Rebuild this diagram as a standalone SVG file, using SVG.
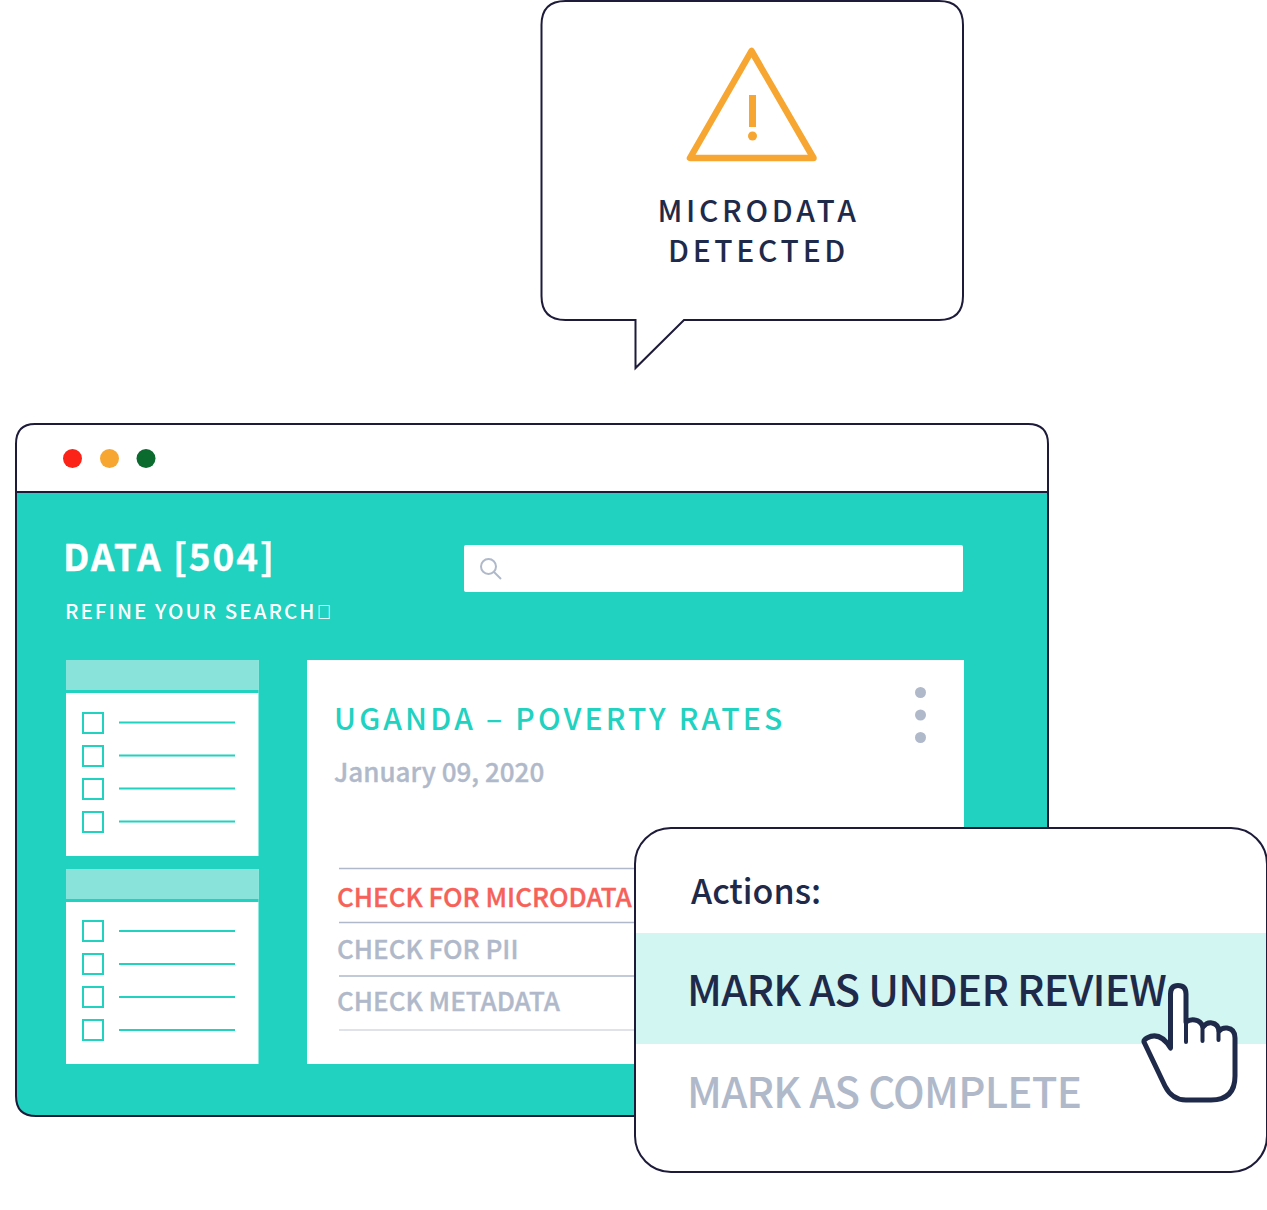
<svg xmlns="http://www.w3.org/2000/svg" width="1267" height="1210" viewBox="0 0 1267 1210">
<style>
text{font-family:"Noto Sans CJK JP","Noto Sans",sans-serif}
.o{fill:#fff;stroke:#1d1a3a;stroke-width:2}
.panel{fill:#fff}
.head{fill:#89e3da}
.box{fill:none;stroke:#20d2bf;stroke-width:2}
.ln{stroke:#20d2bf;stroke-width:2}
.sep{stroke:#b0b9ca;stroke-width:1.5}
.g{fill:#b0b9ca}
.hv{stroke-width:.35px}
.cap{font-size:26px;font-weight:500;fill:#b0b9ca;stroke:#b0b9ca}
.act{font-size:42px;font-weight:500;letter-spacing:-.73px}
.ttl{font-size:30px;font-weight:500;letter-spacing:3.7px;fill:#1f2a4a}
</style>
<g id="callout">
<path class="o" d="M565.500 1H939Q963 1 963 25V296Q963 320 939 320H684L635.500 368V320H565.500Q541.500 320 541.500 296V25Q541.500 1 565.500 1Z"/>
<path d="M751.500 51L690 158H813.500Z" fill="none" stroke="#f7a631" stroke-width="6.500" stroke-linejoin="round"/>
<rect x="749" y="95" width="7" height="32" fill="#f7a631"/><circle cx="752.500" cy="136" r="4.500" fill="#f7a631"/>
<text class="ttl" x="758.500" y="222" text-anchor="middle">MICRODATA</text>
<text class="ttl" x="758.500" y="262" text-anchor="middle">DETECTED</text>
</g>
<g id="window">
<path class="o" d="M35 424H1028Q1048 424 1048 444V492H16V444Q16 424 35 424Z"/>
<path d="M16 492H1048V1096Q1048 1116 1028 1116H36Q16 1116 16 1096Z" fill="#20d2bf" stroke="#1d1a3a" stroke-width="2"/>
<circle cx="72.500" cy="458.500" r="9.500" fill="#fb2317"/><circle cx="109.500" cy="458.500" r="9.500" fill="#f7a631"/><circle cx="146" cy="458.500" r="9.500" fill="#0b6b2f"/>
<text x="63" y="571" font-size="37" font-weight="700" letter-spacing="1.900" fill="#fff" stroke="#fff" class="hv">DATA [504]</text>
<text x="65" y="619" font-size="20.500" font-weight="500" letter-spacing="2.050" fill="#fff">REFINE YOUR SEARCH<tspan font-family="Liberation Sans" font-size="20" letter-spacing="0">&#xE000;</tspan></text>
</g>
<g id="search">
<rect x="464" y="545" width="499" height="47" rx="2" fill="#fff"/>
<circle cx="488.500" cy="566.500" r="7.500" fill="none" stroke="#b0b9ca" stroke-width="2"/><path d="M494 572L501 579" stroke="#b0b9ca" stroke-width="2"/>
</g>
<g id="filter-1">
<rect class="panel" x="66" y="660" width="192.500" height="196"/><rect class="head" x="66" y="660" width="192.500" height="30"/>
<rect x="66" y="690" width="192.500" height="3" fill="#20d2bf"/>
<rect class="box" x="83" y="713" width="20" height="20"/><rect class="box" x="83" y="746" width="20" height="20"/><rect class="box" x="83" y="779" width="20" height="20"/><rect class="box" x="83" y="812" width="20" height="20"/>
<path class="ln" d="M119 722.500H235M119 755.500H235M119 788.500H235M119 821.500H235"/>
</g>
<g id="filter-2">
<rect class="panel" x="66" y="869" width="192.500" height="195"/><rect class="head" x="66" y="869" width="192.500" height="30"/>
<rect x="66" y="899" width="192.500" height="3" fill="#20d2bf"/>
<rect class="box" x="83" y="921" width="20" height="20"/><rect class="box" x="83" y="954" width="20" height="20"/><rect class="box" x="83" y="987" width="20" height="20"/><rect class="box" x="83" y="1020" width="20" height="20"/>
<path class="ln" d="M119 931H235M119 964H235M119 997H235M119 1030H235"/>
</g>
<g id="card">
<rect class="panel" x="307" y="660" width="657" height="404"/>
<text x="334" y="730" font-size="30" font-weight="500" letter-spacing="3.200" fill="#20d2bf">UGANDA – POVERTY RATES</text>
<text x="334" y="782" font-size="26" font-weight="500" class="g hv" stroke="#b0b9ca">January 09, 2020</text>
<circle class="g" cx="920.500" cy="692.500" r="5.500"/><circle class="g" cx="920.500" cy="715" r="5.500"/><circle class="g" cx="920.500" cy="737.500" r="5.500"/>
<path class="sep" d="M339 868.500H640M339 922.500H640M339 976H640"/><path d="M339 1030H640" stroke="#d4d9e2" stroke-width="1.500"/>
<text class="cap hv" x="337" y="907" style="fill:#f6615a;stroke:#f6615a">CHECK FOR MICRODATA</text>
<text class="cap hv" x="337" y="959">CHECK FOR PII</text>
<text class="cap hv" x="337" y="1011">CHECK METADATA</text>
</g>
<g id="actions">
<rect class="o" x="635" y="828" width="632" height="344" rx="36"/>
<rect x="636" y="933" width="630" height="111" fill="#d2f6f2"/>
<text x="691" y="904" font-size="34" font-weight="500" fill="#1f2a4a">Actions:</text>
<text class="act" x="687" y="1006" fill="#1f2a4a">MARK AS UNDER REVIEW</text>
<text class="act" x="687" y="1108" fill="#b0b9ca">MARK AS COMPLETE</text>
</g>
<g id="cursor">
<path d="M1170.500 1048V994Q1170.500 985.500 1178 985.500Q1186 985.500 1186 994V1022Q1190 1019 1195 1020Q1201 1021 1203 1027Q1207 1022 1212 1023Q1218 1024 1219 1031Q1222 1027.500 1227 1028Q1235 1029 1235 1038V1076Q1235 1100 1211 1100H1186Q1172 1100 1165 1086L1144 1042Q1143.500 1040 1147 1038Q1160 1031 1170.500 1048Z" fill="#fff" stroke="#1f2a4a" stroke-width="5" stroke-linejoin="round"/>
<path d="M1186 1022V1042M1202.500 1027V1041M1218.500 1031V1040" fill="none" stroke="#1f2a4a" stroke-width="4" stroke-linecap="round"/>
</g>
</svg>
